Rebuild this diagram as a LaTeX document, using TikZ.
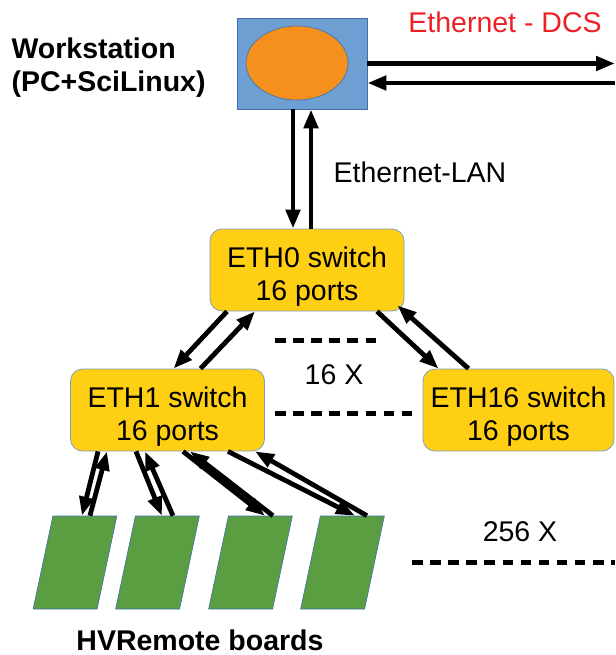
\documentclass[tikz,border=0pt]{standalone}
\usepackage{fontspec}
\setmainfont{Liberation Sans}
\usepackage{xcolor}
\usepackage{tikz}
\usetikzlibrary{shapes}
\usetikzlibrary{arrows.meta}
\usetikzlibrary{positioning}
\definecolor{bleu}{HTML}{6D9FD2}
\definecolor{bordbleu}{HTML}{3F6FAE}
\definecolor{orangepc}{HTML}{F5901E}
\definecolor{jaune}{HTML}{FFCF14}
\definecolor{bordjaune}{HTML}{7F9FC2}
\definecolor{vert}{HTML}{5B9E42}
\definecolor{rouge}{HTML}{EE2026}
\newcommand{\grand}{\fontsize{28.5}{33}\selectfont}
\tikzstyle{poste}=[rectangle,draw=bordbleu,fill=bleu,line width=0.8pt,
        minimum width=130pt,minimum height=91pt]
\tikzstyle{ecran}=[ellipse,draw=bordbleu,fill=orangepc,line width=0.6pt,
        minimum width=102pt,minimum height=74pt]
\tikzstyle{commut}=[rectangle,draw=bordjaune,fill=jaune,line width=0.8pt,
        rounded corners=12pt,minimum width=194pt,minimum height=82pt,
        inner sep=3pt,align=center,font=\grand,
        execute at begin node={\rule{0pt}{66pt}}]
\tikzstyle{carte}=[
        draw=bordbleu,
        fill=vert,
        line width=0.6pt,
        trapezium,
        trapezium left angle=78,
        trapezium right angle=102,
        inner sep=0pt,
        text width=44.2pt,
        text height=93pt,
        text depth=0pt
]
\tikzstyle{fleche}=[-{Triangle[length=19pt,width=14pt]},line width=4.8pt]
\tikzstyle{pointille}=[line width=5pt,dash pattern=on 10.5pt off 7.6pt]
\begin{document}
\begin{tikzpicture}[x=1pt,y=-1pt]
\useasboundingbox (0,0) rectangle (615,655);
\node[poste] (ws) at (302,63.5) {};
\node[ecran] (pc) at (297,63) {};
\node[align=left,anchor=west,font=\grand\bfseries] (titre) at (8,68) {Workstation\\(PC+SciLinux)};
\node[text=rouge,font=\grand] (dcs) at (505,22) {Ethernet - DCS};
\node[font=\grand] (lan) at (420,172) {Ethernet-LAN};
\node[commut] (eth0) at (307,270) {ETH0 switch\\16 ports};
\node[commut] (eth1) at (167.5,410) {ETH1 switch\\16 ports};
\node[commut,minimum width=191pt] (eth16) at (518.5,410) {ETH16 switch\\16 ports};
\node[font=\grand] (n16) at (334,375) {16 X};
\node[carte] (b1) at (75,562.5) {};
\node[carte] (b2) at (157.5,562.5) {};
\node[carte] (b3) at (250.5,562.5) {};
\node[carte] (b4) at (342.5,562.5) {};
\node[font=\grand] (n256) at (520,532) {256 X};
\node[font=\grand\bfseries] (hv) at (200,640) {HVRemote boards};
\coordinate (dcs1) at (615,63.5);
\coordinate (dcs2) at (615,83);
%Fleches
\draw[fleche] (ws.east) -- (dcs1);
\draw[fleche] (dcs2) -- (ws.east |- dcs2);
\draw[fleche] ([xshift=-9pt]ws.south) -- ([xshift=-14pt]eth0.north);
\draw[fleche] ([xshift=4pt]eth0.north) -- ([xshift=9pt]ws.south);
\draw[fleche] ([xshift=-80pt]eth0.south) -- ([xshift=6pt]eth1.north);
\draw[fleche] ([xshift=33pt]eth1.north) -- ([xshift=-52pt]eth0.south);
\draw[fleche] ([xshift=70pt]eth0.south) -- ([xshift=-80pt]eth16.north);
\draw[fleche] ([xshift=-50pt]eth16.north) -- ([shift={(-7pt,6pt)}]eth0.south east);
\draw[fleche] ([xshift=-69.5pt]eth1.south) -- ([xshift=-3pt]b1.top side);
\draw[fleche] ([xshift=5pt]b1.top side) -- ([xshift=-60.5pt]eth1.south);
\draw[fleche] ([xshift=-31.5pt]eth1.south) -- ([xshift=-5.5pt]b2.top side);
\draw[fleche] ([xshift=5.5pt]b2.top side) -- ([xshift=-22.5pt]eth1.south);
\draw[fleche] ([xshift=15.5pt]eth1.south) -- ([xshift=4.5pt]b3.top side);
\draw[fleche] ([xshift=12.5pt]b3.top side) -- ([xshift=22.5pt]eth1.south);
\draw[fleche] ([xshift=60.5pt]eth1.south) -- ([xshift=2.5pt]b4.top side);
\draw[fleche] ([xshift=14.5pt]b4.top side) -- ([xshift=87.5pt]eth1.south);
%Pointilles
\draw[pointille] (275,340) -- (376,340);
\draw[pointille] (275,413) -- (412,413);
\draw[pointille] (412,562) -- (615,562);
\end{tikzpicture}
\end{document}
